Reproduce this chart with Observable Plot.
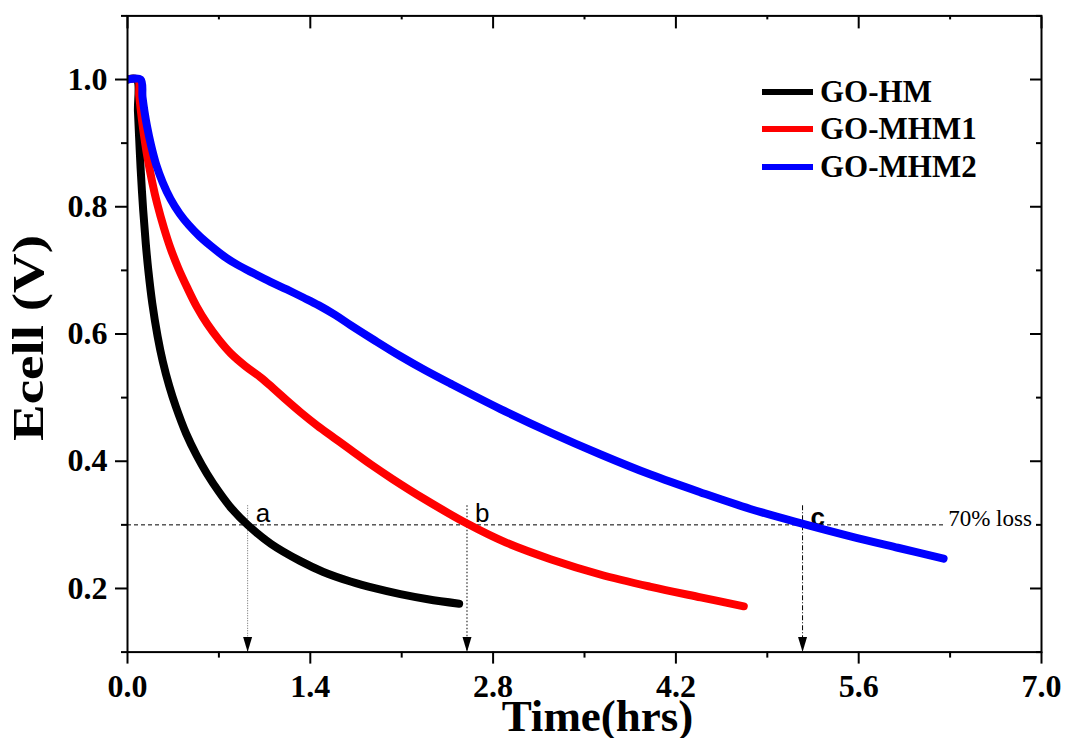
<!DOCTYPE html>
<html><head><meta charset="utf-8">
<script src="https://cdn.jsdelivr.net/npm/d3@7"></script>
<script src="https://cdn.jsdelivr.net/npm/@observablehq/plot@0.6"></script>
<style>
html,body{margin:0;padding:0;background:#fff;overflow:hidden}
#wrap{position:relative;width:1065px;height:738px}
.legend{position:absolute;left:762px;top:73px;font-family:"Liberation Serif",serif;font-weight:bold;font-size:31px;color:#000}
.legend .row{display:flex;align-items:center;height:37.5px;white-space:nowrap}
.legend .sw{width:51px;height:6px;margin-right:7px}
</style></head><body><div id="wrap"></div>
<script>
const seriesNames = ["GO-HM", "GO-MHM1", "GO-MHM2"];
const seriesColors = ["#000000", "#ff0000", "#0000ff"];

const timeHM  = [0, 0.07, 0.08, 0.09, 0.10, 0.12, 0.14, 0.16, 0.19, 0.23, 0.27, 0.32, 0.37, 0.45, 0.53, 0.61, 0.70, 0.80, 0.92, 1.10, 1.325, 1.50, 1.708, 1.90, 2.09, 2.30, 2.54];
const ecellHM = [1.0, 1.0, 0.95, 0.905, 0.862, 0.795, 0.742, 0.699, 0.648, 0.597, 0.557, 0.518, 0.486, 0.443, 0.409, 0.380, 0.352, 0.325, 0.300, 0.270, 0.243, 0.226, 0.211, 0.200, 0.191, 0.183, 0.176];

const timeMHM1  = [0, 0.08, 0.09, 0.10, 0.12, 0.151, 0.19, 0.227, 0.28, 0.329, 0.39, 0.457, 0.53, 0.61, 0.70, 0.789, 0.90, 1.019, 1.12, 1.223, 1.325, 1.453, 1.58, 1.708, 1.87, 2.03, 2.27, 2.60, 2.90, 3.24, 3.62, 4.00, 4.39, 4.72];
const ecellMHM1 = [1.0, 1.0, 0.975, 0.955, 0.922, 0.880, 0.838, 0.805, 0.766, 0.735, 0.703, 0.673, 0.643, 0.616, 0.591, 0.570, 0.550, 0.532, 0.514, 0.495, 0.477, 0.456, 0.437, 0.418, 0.394, 0.372, 0.341, 0.302, 0.272, 0.246, 0.222, 0.203, 0.186, 0.172];

const timeMHM2  = [0, 0.10, 0.115, 0.13, 0.15, 0.18, 0.22, 0.27, 0.33, 0.40, 0.47, 0.55, 0.64, 0.74, 0.84, 0.97, 1.095, 1.22, 1.35, 1.465, 1.59, 1.708, 1.90, 2.091, 2.28, 2.474, 2.857, 3.24, 3.62, 4.006, 4.39, 4.77, 5.167, 5.537, 5.90, 6.25];
const ecellMHM2 = [1.0, 1.0, 0.972, 0.950, 0.926, 0.897, 0.866, 0.838, 0.812, 0.789, 0.771, 0.754, 0.738, 0.722, 0.709, 0.695, 0.682, 0.670, 0.657, 0.645, 0.630, 0.614, 0.589, 0.565, 0.543, 0.522, 0.482, 0.445, 0.411, 0.379, 0.351, 0.325, 0.302, 0.282, 0.264, 0.247];

const xMajor = [0, 1.4, 2.8, 4.2, 5.6, 7.0];
const xMinor = [0.7, 2.1, 3.5, 4.9, 6.3];
const yMajor = [0.2, 0.4, 0.6, 0.8, 1.0];
const yMinor = [0.1, 0.3, 0.5, 0.7, 0.9, 1.1];
const xDomain = [0, 7];
const yDomain = [0.1, 1.1];

const lossLevel = 0.3;
const lossLineEnd = 6.27;
const lossLabel = "70% loss";
const markerTimes = [0.92, 2.60, 5.17];
const markerLabels = ["a", "b", "c"];
const markerTop = 0.33;

const xTitle = "Time(hrs)";
const yTitle = "Ecell (V)";

const seriesT = [timeHM, timeMHM1, timeMHM2];
const seriesE = [ecellHM, ecellMHM1, ecellMHM2];
const rowsFor = i => seriesT[i].map((t, j) => ({t, e: seriesE[i][j]}));
const markers = markerTimes.map((t, i) => ({t, label: markerLabels[i]}));
const dashes = ["1,1.5", "1.5,2", "5,2,1,2"];
const ruleColors = ["#666", "#000", "#000"];

const arrowHead = {draw(ctx) { ctx.moveTo(0, 0); ctx.lineTo(-4.5, -15); ctx.lineTo(4.5, -15); ctx.closePath(); }};

const lineMarks = [0, 1, 2].map(i => Plot.line(rowsFor(i), {
  x: "t", y: "e", stroke: seriesColors[i], strokeWidth: 8,
  strokeLinecap: "round", strokeLinejoin: "round", curve: "catmull-rom", clip: true
}));

const markerMarks = [0, 1, 2].flatMap(i => [
  Plot.ruleX([markers[i]], {x: "t", y1: markerTop, y2: yDomain[0], stroke: ruleColors[i], strokeWidth: 1, strokeDasharray: dashes[i]}),
  Plot.dot([markers[i]], {x: "t", y: yDomain[0], symbol: arrowHead, r: 5, fill: "#000", stroke: "none"}),
  Plot.text([markers[i]], {x: "t", y: lossLevel, text: "label", textAnchor: "start", lineAnchor: "bottom",
    dx: 8, dy: i === 2 ? 1 : -3, fontFamily: "Liberation Sans", fontSize: 26, fontWeight: i === 2 ? "bold" : "normal", fill: "#000"})
]);

const tick = {strokeWidth: 2, label: null};
const blank = () => "";

const plot = Plot.plot({
  width: 1065, height: 738,
  marginLeft: 127, marginRight: 24, marginTop: 15.4, marginBottom: 86.4,
  x: {domain: xDomain, label: null},
  y: {domain: yDomain, label: null},
  style: {fontFamily: "Liberation Serif", background: "#fff", color: "#000", overflow: "visible"},
  marks: [
    Plot.ruleY([lossLevel], {x1: xDomain[0], x2: lossLineEnd, stroke: "#000", strokeWidth: 1, strokeDasharray: "4,3"}),
    Plot.text([lossLabel], {x: lossLineEnd, y: lossLevel, text: d => d, textAnchor: "start", lineAnchor: "bottom", dx: 2, dy: 1, fontSize: 23, fontFamily: "Liberation Serif", fill: "#000"}),
    ...markerMarks,
    ...lineMarks,
    Plot.frame({stroke: "#000", strokeWidth: 2}),
    Plot.axisX(xMajor, {anchor: "bottom", tickSize: 12, tickPadding: 10, tickFormat: d => d.toFixed(1), fontSize: 32, fontWeight: "bold", ...tick}),
    Plot.axisX(xMinor, {anchor: "bottom", tickSize: 6, tickFormat: blank, ...tick}),
    Plot.axisX(xMajor, {anchor: "top", tickSize: -12, tickFormat: blank, ...tick}),
    Plot.axisX(xMinor, {anchor: "top", tickSize: -3, tickFormat: blank, ...tick}),
    Plot.axisY(yMajor, {anchor: "left", tickSize: 12, tickPadding: 8, tickFormat: d => d.toFixed(1), fontSize: 32, fontWeight: "bold", ...tick}),
    Plot.axisY(yMinor, {anchor: "left", tickSize: 6, tickFormat: blank, ...tick}),
    Plot.axisY(yMajor, {anchor: "right", tickSize: -12, tickFormat: blank, ...tick}),
    Plot.axisY(yMinor, {anchor: "right", tickSize: -6, tickFormat: blank, ...tick}),
    Plot.text([xTitle], {frameAnchor: "bottom", text: d => d, lineAnchor: "bottom", dx: 13, dy: 79, fontSize: 45, fontWeight: "bold", fontFamily: "Liberation Serif", fill: "#000"}),
    Plot.text([yTitle], {frameAnchor: "left", text: d => d, rotate: -90, textAnchor: "start", lineAnchor: "middle", dx: -99, dy: 107, fontSize: 45, fontWeight: "bold", fontFamily: "Liberation Serif", fill: "#000"})
  ]
});

d3.select(plot).selectAll("text").filter(function() { return this.textContent === yTitle; })
  .attr("textLength", 206).attr("lengthAdjust", "spacingAndGlyphs");

const wrap = document.getElementById("wrap");
wrap.appendChild(plot);
const legend = document.createElement("div");
legend.className = "legend";
seriesNames.forEach((name, i) => {
  const row = document.createElement("div");
  row.className = "row";
  const sw = document.createElement("span");
  sw.className = "sw";
  sw.style.background = seriesColors[i];
  const label = document.createElement("span");
  label.textContent = name;
  row.appendChild(sw); row.appendChild(label);
  legend.appendChild(row);
});
wrap.appendChild(legend);
</script></body></html>
